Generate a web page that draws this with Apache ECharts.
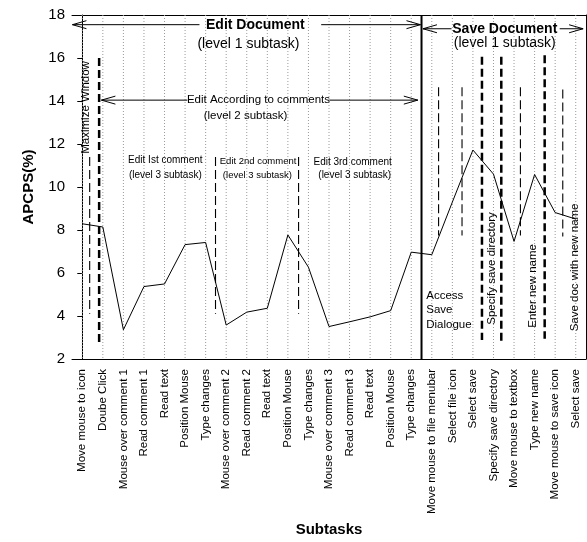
<!DOCTYPE html>
<html><head><meta charset="utf-8">
<script src="https://cdn.jsdelivr.net/npm/echarts@6/dist/echarts.min.js"></script>
<style>html,body{margin:0;padding:0;background:#fff}#c{width:587px;height:542px}</style>
</head><body><div id="c"></div>
<script>
// ---- data ----
const categories = [
  "Move mouse to icon", "Doube Click", "Mouse over comment 1", "Read comment 1", "Read text",
  "Position Mouse", "Type changes", "Mouse over comment 2", "Read comment 2", "Read text",
  "Position Mouse", "Type changes", "Mouse over comment 3", "Read comment 3", "Read text",
  "Position Mouse", "Type changes", "Move mouse to file menubar", "Select file icon", "Select save",
  "Specify save directory", "Move mouse to textbox", "Type new name", "Move mouse to save icon", "Select save"
];
const apcps = [8.29, 8.14, 3.36, 5.37, 5.49, 7.32, 7.42, 3.58, 4.18, 4.36, 7.77, 6.27, 3.51, 3.73, 3.96, 4.25, 6.97, 6.85, 9.3, 11.72, 10.6, 7.47, 10.58, 8.81, 8.51];
const yTicks = {min: 2, max: 18, interval: 2};

// annotation dashed lines: [x (category index units), yTop, yBottom, thick(1)/thin(0)]
const dashLines = [
  [0.36, 11.4, 4.1, 0], [0.82, 16.0, 2.75, 1], [6.48, 11.4, 4.1, 0], [10.52, 11.4, 4.1, 0],
  [17.33, 14.64, 7.75, 0], [18.47, 14.64, 7.75, 0], [19.44, 16.06, 2.88, 1], [20.38, 16.06, 2.84, 1],
  [21.31, 14.64, 7.75, 0], [22.49, 16.13, 2.94, 1], [23.37, 14.53, 7.7, 0]
];
// phase divider: [x, yTop, yBottom]
const dividers = [[16.5, 18, 2]];
// arrows: [x1, x2, y, headAtX1, headAtX2]
const arrows = [
  [-0.48, 5.70, 17.55, 1, 0], [11.62, 16.45, 17.55, 0, 1],
  [16.57, 17.96, 17.36, 1, 0], [23.22, 24.36, 17.36, 0, 1],
  [0.93, 5.11, 14.04, 1, 0], [12.03, 16.32, 14.04, 0, 1]
];
// annotation texts: [text, x, y, fontSize, bold, rotated, align]
const notes = [
  ["Edit Document", 8.42, 17.55, 14, 1, 0, "center"],
  ["(level 1 subtask)", 8.08, 16.66, 14, 0, 0, "center"],
  ["Save Document", 20.55, 17.36, 14, 1, 0, "center"],
  ["(level 1 subtask)", 20.55, 16.7, 14, 0, 0, "center"],
  ["Edit According to comments", 8.57, 14.04, 11.5, 0, 0, "center"],
  ["(level 2 subtask)", 7.94, 13.29, 11.5, 0, 0, "center"],
  ["Edit Ist comment", 4.04, 11.23, 10, 0, 0, "center"],
  ["(level 3 subtask)", 4.04, 10.56, 10, 0, 0, "center"],
  ["Edit 2nd comment", 8.55, 11.2, 9.5, 0, 0, "center"],
  ["(level 3 subtask)", 8.52, 10.56, 9.5, 0, 0, "center"],
  ["Edit 3rd comment", 13.15, 11.14, 10, 0, 0, "center"],
  ["(level 3 subtask)", 13.25, 10.56, 10, 0, 0, "center"],
  ["Maximize Window", 0.19, 13.7, 11.5, 0, 1, "center"],
  ["Specify save directory", 19.91, 6.21, 11.5, 0, 1, "center"],
  ["Enter new name", 21.9, 5.4, 11.5, 0, 1, "center"],
  ["Save doc with new name", 23.95, 6.26, 11.5, 0, 1, "center"],
  ["Access\nSave\nDialogue", 16.73, 4.28, 11.5, 0, 0, "left"]
];

const FONT = "Liberation Sans, Arial, sans-serif";
const gridIdx = categories.map((_, i) => [i]);

const chart = echarts.init(document.getElementById('c'), null, {renderer: 'canvas'});
chart.setOption({
  animation: false,
  backgroundColor: '#fff',
  grid: {left: 72, right: 1, top: 15, bottom: 170},
  xAxis: [
    {
      type: 'category', data: categories, boundaryGap: true, position: 'bottom',
      name: 'Subtasks', nameLocation: 'middle', nameGap: 150,
      nameTextStyle: {fontFamily: FONT, fontWeight: 'bold', fontSize: 15, color: '#000'},
      axisLine: {lineStyle: {color: '#000', width: 1}},
      axisTick: {alignWithLabel: true, length: 5, lineStyle: {color: '#000'}},
      axisLabel: {interval: 0, rotate: 90, margin: 10, fontFamily: FONT, fontSize: 11.5, color: '#000'},
      splitLine: {show: false}
    },
    {
      type: 'value', min: -0.5, max: 24.5, position: 'top',
      axisLine: {show: true, onZero: false, lineStyle: {color: '#000', width: 1}},
      axisTick: {show: false}, axisLabel: {show: false}, splitLine: {show: false}
    }
  ],
  yAxis: [
    {
      type: 'value', min: yTicks.min, max: yTicks.max, interval: yTicks.interval,
      name: 'APCPS(%)', nameLocation: 'middle', nameGap: 36,
      nameTextStyle: {fontFamily: FONT, fontWeight: 'bold', fontSize: 15, color: '#000'},
      axisLine: {show: true, lineStyle: {color: '#000', width: 1}},
      axisTick: {show: true, length: 5, lineStyle: {color: '#000'}},
      axisLabel: {fontFamily: FONT, fontSize: 15, color: '#000', margin: 7},
      splitLine: {show: false}
    },
    {
      type: 'value', min: yTicks.min, max: yTicks.max, position: 'right',
      axisLine: {show: true, onZero: false, lineStyle: {color: '#000', width: 1}},
      axisTick: {show: false}, axisLabel: {show: false}, splitLine: {show: false}
    }
  ],
  series: [
    {
      type: 'custom', xAxisIndex: 1, yAxisIndex: 0, silent: true, clip: false, z: 1,
      data: gridIdx,
      renderItem: function (params, api) {
        const i = gridIdx[params.dataIndex][0];
        const a = api.coord([i, yTicks.max]), b = api.coord([i, yTicks.min]);
        return {type: 'line', shape: {x1: a[0], y1: a[1], x2: b[0], y2: b[1]},
          style: {stroke: '#9a9a9a', lineWidth: 1, lineDash: [1, 2]}};
      }
    },
    {
      type: 'line', xAxisIndex: 0, yAxisIndex: 0, data: apcps, showSymbol: false, symbol: 'none',
      lineStyle: {color: '#000', width: 1}, z: 3, silent: true
    },
    {
      type: 'custom', xAxisIndex: 1, yAxisIndex: 0, silent: true, clip: false, z: 4,
      data: dashLines,
      renderItem: function (params, api) {
        const d = dashLines[params.dataIndex];
        const a = api.coord([d[0], d[1]]), b = api.coord([d[0], d[2]]);
        return {type: 'line', shape: {x1: a[0], y1: a[1], x2: b[0], y2: b[1]},
          style: {stroke: '#000', lineWidth: d[3] ? 2.5 : 1.1, lineDash: d[3] ? [8, 4] : [9, 4]}};
      }
    },
    {
      type: 'custom', xAxisIndex: 1, yAxisIndex: 0, silent: true, clip: false, z: 4,
      data: dividers,
      renderItem: function (params, api) {
        const d = dividers[params.dataIndex];
        const a = api.coord([d[0], d[1]]), b = api.coord([d[0], d[2]]);
        return {type: 'line', shape: {x1: a[0], y1: a[1], x2: b[0], y2: b[1]},
          style: {stroke: '#000', lineWidth: 2}};
      }
    },
    {
      type: 'custom', xAxisIndex: 1, yAxisIndex: 0, silent: true, clip: false, z: 5,
      data: arrows,
      renderItem: function (params, api) {
        const d = arrows[params.dataIndex];
        const a = api.coord([d[0], d[2]]), b = api.coord([d[1], d[2]]);
        const children = [{type: 'line', shape: {x1: a[0], y1: a[1], x2: b[0], y2: b[1]},
          style: {stroke: '#000', lineWidth: 1}}];
        const L = 14, H = 4;
        if (d[3]) {
          children.push({type: 'polyline', shape: {points: [[a[0] + L, a[1] - H], [a[0], a[1]], [a[0] + L, a[1] + H]]},
            style: {stroke: '#000', fill: null, lineWidth: 1}});
        }
        if (d[4]) {
          children.push({type: 'polyline', shape: {points: [[b[0] - L, b[1] - H], [b[0], b[1]], [b[0] - L, b[1] + H]]},
            style: {stroke: '#000', fill: null, lineWidth: 1}});
        }
        return {type: 'group', children: children};
      }
    },
    {
      type: 'custom', xAxisIndex: 1, yAxisIndex: 0, silent: true, clip: false, z: 6,
      data: notes.map(n => [n[1], n[2]]),
      renderItem: function (params, api) {
        const n = notes[params.dataIndex];
        const p = api.coord([n[1], n[2]]);
        return {type: 'text', x: p[0], y: p[1], rotation: n[5] ? Math.PI / 2 : 0,
          style: {text: n[0], x: 0, y: 0, align: n[6], verticalAlign: 'middle',
            fill: '#000', lineHeight: 14.5,
            font: (n[4] ? 'bold ' : '') + n[3] + 'px ' + FONT}};
      }
    }
  ]
});
</script></body></html>
